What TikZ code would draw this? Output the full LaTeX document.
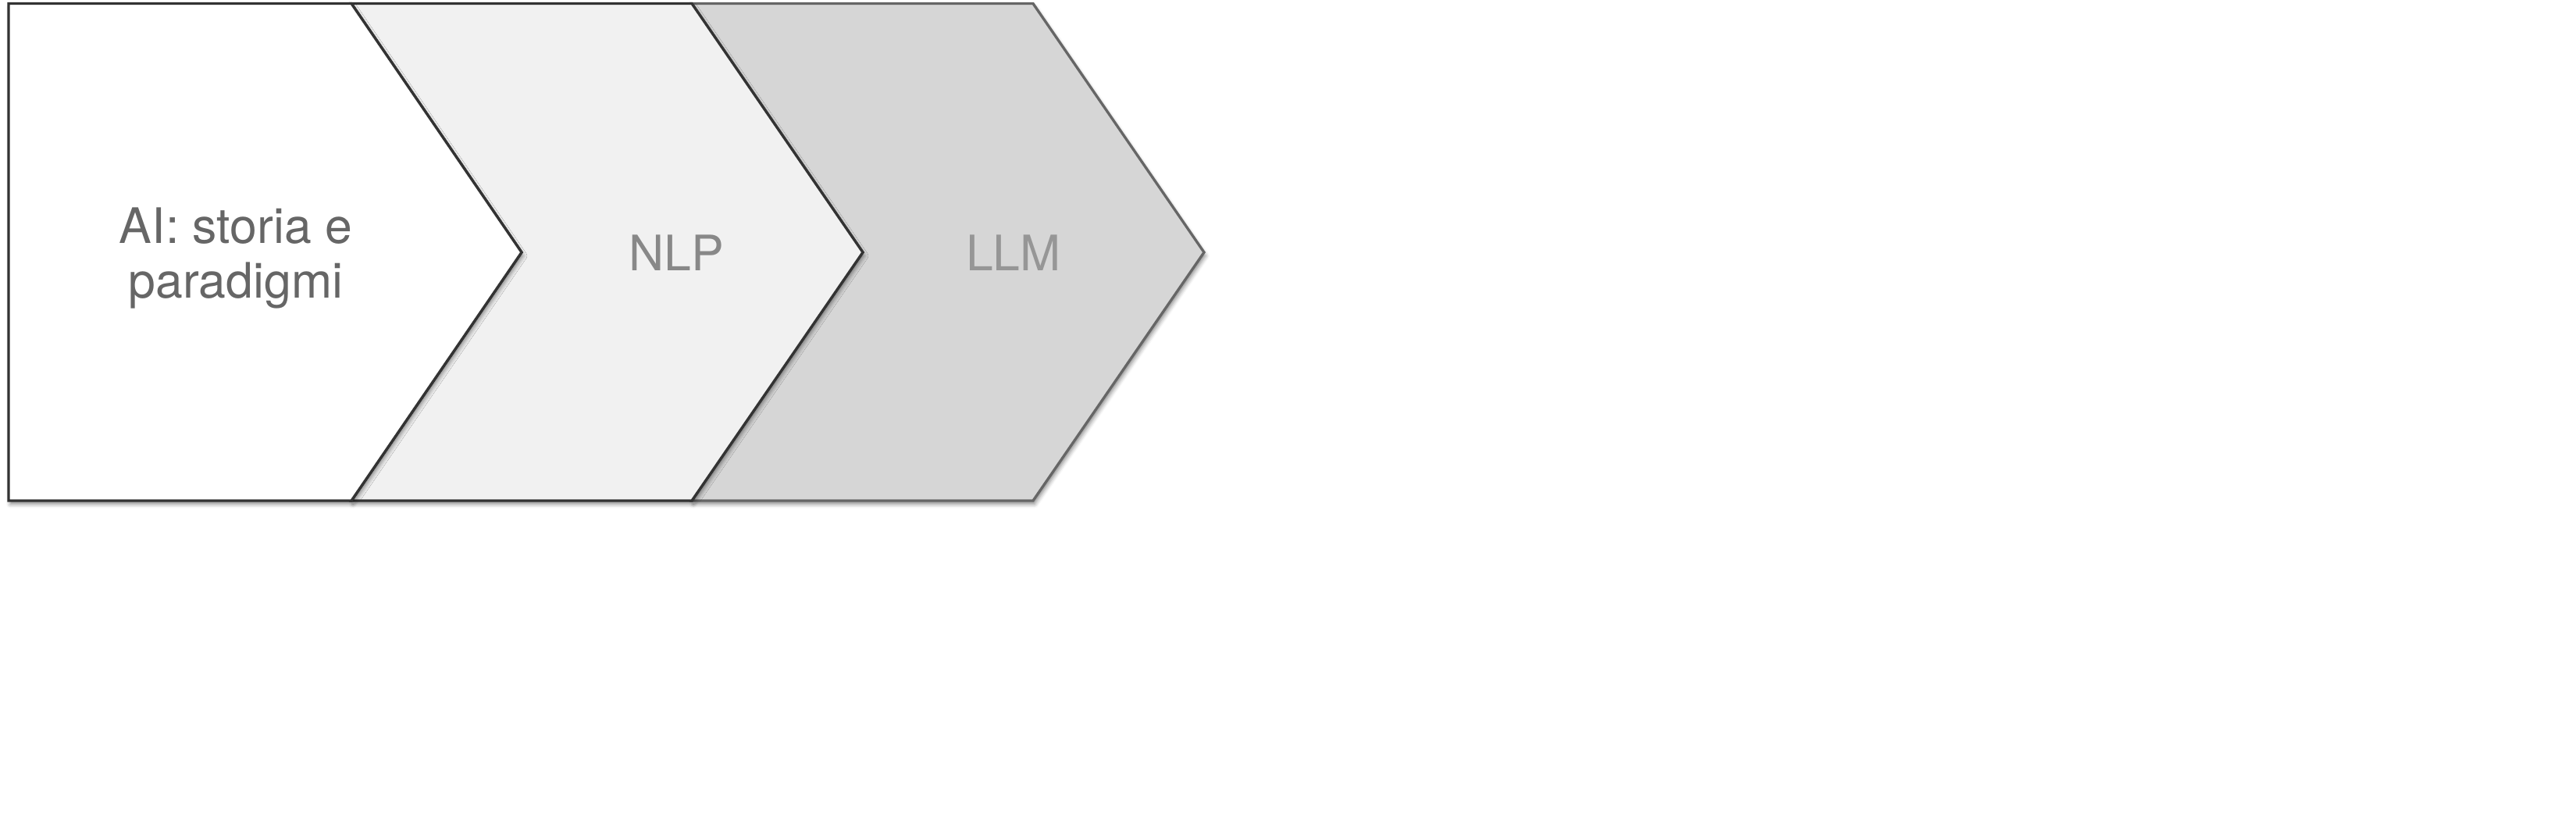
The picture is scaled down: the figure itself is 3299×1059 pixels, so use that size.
\documentclass[tikz,border=0pt]{standalone}
\usepackage{fontspec}
\setmainfont{TeX Gyre Heros}
\usepackage{xcolor}
\usepackage{tikz}
\usetikzlibrary{shadows, shadows.blur}
\definecolor{darkline}{RGB}{51, 51, 51}
\definecolor{midline}{RGB}{102, 102, 102}
\definecolor{lightfill}{RGB}{241, 241, 241}
\definecolor{greyfill}{RGB}{214, 214, 214}
\definecolor{textdark}{RGB}{102, 102, 102}
\definecolor{textmid}{RGB}{136, 136, 136}
\definecolor{textlight}{RGB}{150, 150, 150}

\begin{document}
\begin{tikzpicture}[
    x=0.01cm, y=-0.01cm,
    phase/.style={line width=0.95pt, line join=miter, blur shadow={shadow xshift=0.02cm, shadow yshift=-0.045cm, shadow blur radius=0.05cm, shadow opacity=45}},
    firstphase/.style={phase, draw=darkline, fill=white},
    secondphase/.style={phase, draw=darkline, fill=lightfill},
    thirdphase/.style={phase, draw=midline, fill=greyfill},
    label/.style={inner sep=0pt, align=center, font=\fontsize{17.8}{19.9}\selectfont}
]
    \useasboundingbox (0,0) rectangle (3299,1059);

    % Chevrons (back to front)
    \path[thirdphase] (886,4.5) -- (1323,4.5) -- (1542,323) -- (1323,641) -- (886,641) -- (1105,323) -- cycle;
    \path[secondphase] (450,4.5) -- (886,4.5) -- (1105,323) -- (886,641) -- (450,641) -- (668,323) -- cycle;
    \path[firstphase] (11,4.5) -- (450,4.5) -- (668,323) -- (450,641) -- (11,641) -- cycle;

    % Labels
    \node[label, text=textdark] (storia) at (302,330) {AI: storia e\\paradigmi};
    \node[label, text=textmid] (nlp) at (866,323.5) {NLP};
    \node[label, text=textlight] (llm) at (1298,323.5) {LLM};

\end{tikzpicture}
\end{document}
